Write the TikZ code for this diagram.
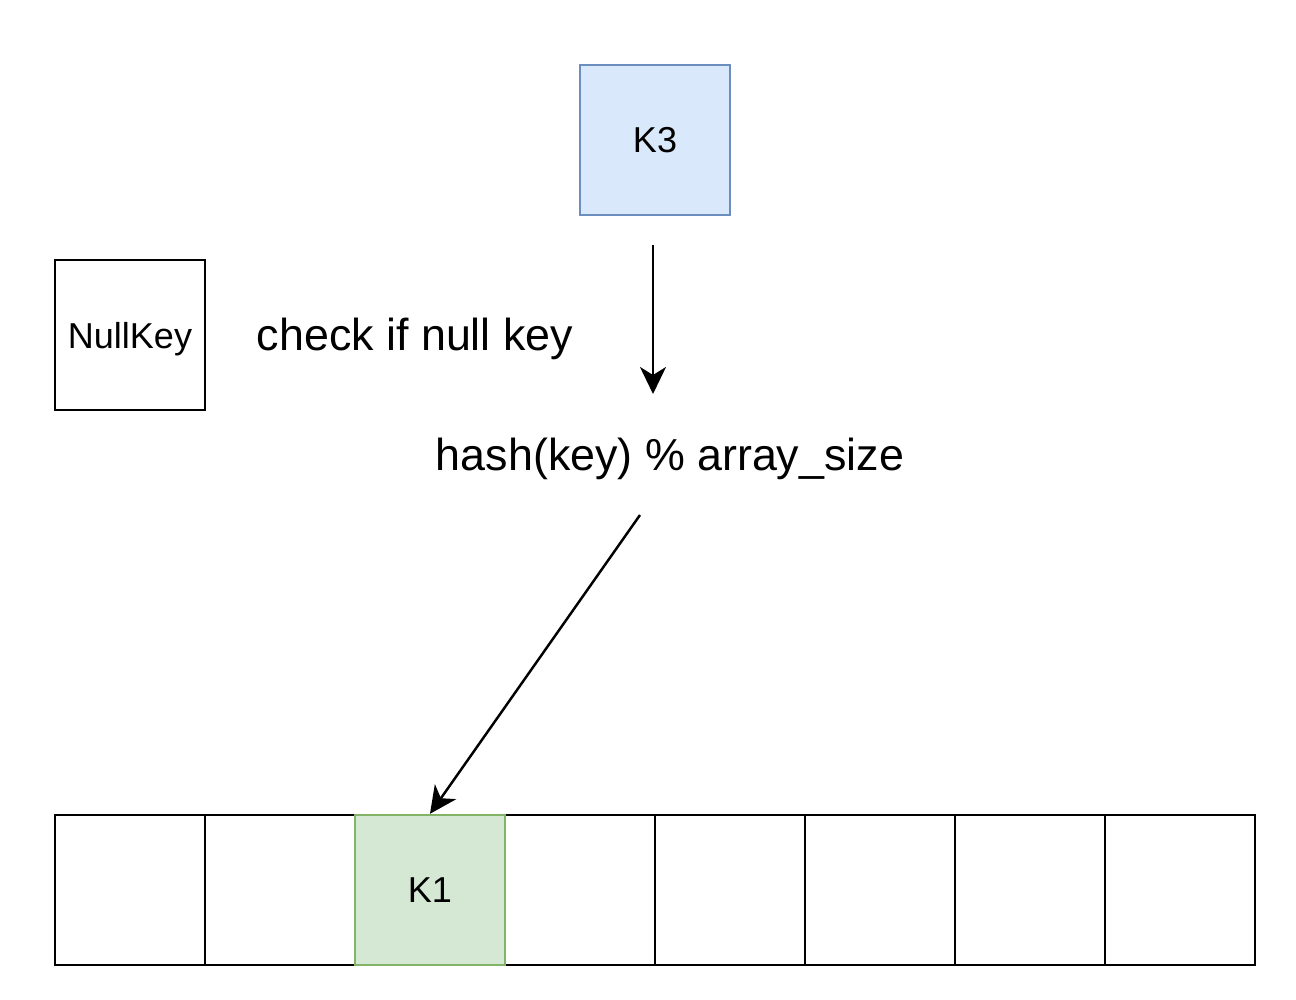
\documentclass[tikz,border=0pt]{standalone}
\usepackage{fontspec}
\setmainfont{Liberation Sans}
\usetikzlibrary{arrows.meta, positioning, calc}
\definecolor{KeyBlueFill}{RGB}{218,232,252}
\definecolor{KeyBlueDraw}{RGB}{108,142,191}
\definecolor{SlotGreenFill}{RGB}{213,232,212}
\definecolor{SlotGreenDraw}{RGB}{130,179,102}

\begin{document}
\begin{tikzpicture}[
        x=0.02cm, y=-0.02cm,
        cell/.style={draw=black, line width=1.4pt, minimum width=3cm,
                     minimum height=3cm, inner sep=0pt, font=\fontsize{20.5}{24}\selectfont,
                     text depth=0pt, text centered},
        keybox/.style={cell, draw=KeyBlueDraw, fill=KeyBlueFill},
        hitbox/.style={cell, draw=SlotGreenDraw, fill=SlotGreenFill},
        bigtext/.style={font=\fontsize{25.5}{30}\selectfont, inner sep=0pt,
                        text depth=0pt},
        arr/.style={-{Stealth[length=0.54cm, width=0.52cm, inset=0.16cm]},
                    black, line width=1.4pt}
      ]
        \useasboundingbox (0,0) rectangle (1296,1000);
        \node[keybox] (k3) at (655,140) {K3};
        \node[cell] (nullkey) at (130,335) {NullKey};
        \node[bigtext] (check) at (415,334) {check if null key};
        \node[bigtext] (hash) at (670,454) {hash(key) \% array\_size};
        % the array slots
        \foreach \i in {0,...,7} {
          \node[cell] (slot\i) at (130+150*\i,890) {};
        }
        \node[hitbox] (slot2) at (430,890) {K1};
        \coordinate (k3out) at (653,245);
        \coordinate (hashin) at (653,394);
        \coordinate (hashout) at (640,515);
        \draw[arr] (k3out) -- (hashin);
        \draw[arr] (hashout) -- (slot2.north);
      \end{tikzpicture}
\end{document}
